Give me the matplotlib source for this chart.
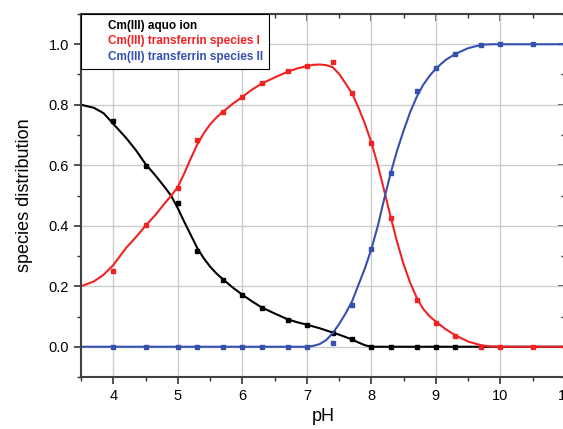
import matplotlib.pyplot as plt
from matplotlib.ticker import MultipleLocator

plt.rcParams['font.family'] = ['Liberation Sans', 'DejaVu Sans']

# measured points (squares)
ph_pts = [4.0, 4.5, 5.0, 5.3, 5.7, 6.0, 6.3, 6.7, 7.0, 7.4, 7.7, 8.0, 8.3, 8.7, 9.0, 9.3, 9.7, 10.0, 10.5, 11.0]
aquo_pts = [0.747, 0.599, 0.475, 0.316, 0.22, 0.172, 0.128, 0.089, 0.072, 0.047, 0.025, 0.0, 0.0, 0.0, 0.0, 0.0]
tf1_pts = [0.251, 0.403, 0.526, 0.683, 0.777, 0.827, 0.871, 0.91, 0.928, 0.94, 0.838, 0.675, 0.425, 0.155, 0.08, 0.034, 0.0, 0.0, 0.0, 0.0]
tf2_pts = [0.0, 0.0, 0.0, 0.0, 0.0, 0.0, 0.0, 0.0, 0.0, 0.014, 0.137, 0.323, 0.576, 0.844, 0.92, 0.968, 0.999, 1.0, 1.0, 1.0]

# fitted curves
ph_fit = [3.5, 3.7, 3.85, 4.0, 4.2, 4.35, 4.5, 4.65, 4.8, 4.9, 5.0, 5.1, 5.2, 5.3, 5.4, 5.5, 5.6, 5.7, 5.85,
          6.0, 6.15, 6.3, 6.5, 6.7, 6.85, 7.0, 7.1, 7.2, 7.3, 7.4, 7.5, 7.6, 7.7, 7.8, 7.9, 8.0, 8.1, 8.2,
          8.3, 8.4, 8.5, 8.6, 8.7, 8.8, 8.9, 9.0, 9.15, 9.3, 9.5, 9.7, 9.85, 10.0, 10.5, 11.0]
aquo_fit = [0.800, 0.790, 0.772, 0.737, 0.690, 0.650, 0.604, 0.567, 0.527, 0.498, 0.458, 0.413, 0.370, 0.327,
            0.293, 0.265, 0.242, 0.223, 0.196, 0.172, 0.150, 0.130, 0.110, 0.091, 0.081, 0.073, 0.067, 0.061,
            0.054, 0.047, 0.040, 0.032, 0.024, 0.014, 0.005, 0.0, 0.0, 0.0, 0.0, 0.0, 0.0, 0.0, 0.0, 0.0,
            0.0, 0.0, 0.0, 0.0, 0.0, 0.0, 0.0, 0.0, 0.0, 0.0]
tf1_fit = [0.200, 0.216, 0.238, 0.270, 0.327, 0.362, 0.400, 0.435, 0.475, 0.500, 0.528, 0.573, 0.622, 0.668,
           0.705, 0.735, 0.758, 0.777, 0.803, 0.826, 0.850, 0.870, 0.890, 0.909, 0.920, 0.928, 0.932, 0.933,
           0.931, 0.924, 0.902, 0.870, 0.838, 0.790, 0.737, 0.675, 0.600, 0.515, 0.428, 0.345, 0.272, 0.212,
           0.163, 0.126, 0.101, 0.083, 0.058, 0.038, 0.017, 0.005, 0.001, 0.0, 0.0, 0.0]
tf2_fit = [0.0, 0.0, 0.0, 0.0, 0.0, 0.0, 0.0, 0.0, 0.0, 0.0, 0.0, 0.0, 0.0, 0.0, 0.0, 0.0, 0.0, 0.0, 0.0,
           0.0, 0.0, 0.0, 0.0, 0.0, 0.0, 0.0, 0.003, 0.009, 0.022, 0.045, 0.075, 0.110, 0.150, 0.205, 0.260,
           0.323, 0.400, 0.490, 0.575, 0.650, 0.715, 0.775, 0.825, 0.865, 0.895, 0.920, 0.948, 0.968, 0.987,
           0.998, 1.0, 1.0, 1.0, 1.0]

labels = ["Cm(III) aquo ion", "Cm(III) transferrin species I", "Cm(III) transferrin species II"]
colors = ["black", "#f02222", "#3551b0"]

fig = plt.figure(figsize=(5.63, 4.29), dpi=100)
ax = fig.add_axes([81/563, 1 - 377/429, 484/563, (377 - 14)/429])

ax.grid(True, color="#cccccc", lw=1)
ax.set_axisbelow(True)

fits = [aquo_fit, tf1_fit, tf2_fit]
pts = [aquo_pts, tf1_pts, tf2_pts]
handles = []
for f, p, c, lab in zip(fits, pts, colors, labels):
    h, = ax.plot(ph_fit, f, color=c, lw=1.5, label=lab, clip_on=False)
    ax.plot(ph_pts[:len(p)], p, 's', color=c, ms=3.5, clip_on=False)
    handles.append(h)

ax.set_xlim(3.5, 11)
ax.set_ylim(-0.1, 1.1)
ax.set_xticks([4, 5, 6, 7, 8, 9, 10, 11])
ax.set_yticks([0.0, 0.2, 0.4, 0.6, 0.8, 1.0])
ax.xaxis.set_minor_locator(MultipleLocator(0.5))
ax.yaxis.set_minor_locator(MultipleLocator(0.1))
ax.yaxis.set_major_formatter(plt.FormatStrFormatter("%.1f"))
ax.tick_params(which="both", direction="out", color="#333333", labelsize=10.5)
ax.tick_params(which="major", length=5, width=1.2)
ax.tick_params(which="minor", length=3, width=1)

# top and right ticks point inward
top = ax.secondary_xaxis("top")
top.set_xticks([4, 5, 6, 7, 8, 9, 10, 11])
top.xaxis.set_minor_locator(MultipleLocator(0.5))
right = ax.secondary_yaxis("right")
right.set_yticks([0.0, 0.2, 0.4, 0.6, 0.8, 1.0])
right.yaxis.set_minor_locator(MultipleLocator(0.1))
for sec in (top, right):
    sec.tick_params(which="both", direction="in", color="#333333", labelleft=False,
                    labelright=False, labeltop=False, labelbottom=False)
    sec.tick_params(which="major", length=5, width=1.2)
    sec.tick_params(which="minor", length=3, width=1)
    for s in sec.spines.values():
        s.set_visible(False)

for s in ax.spines.values():
    s.set_color("#404040")
    s.set_linewidth(1.5)

ax.set_xlabel("pH", fontsize=13, labelpad=4)
ax.set_ylabel("species distribution", fontsize=13, labelpad=11)

leg = ax.legend(handles=handles, loc="upper left", borderaxespad=0, fancybox=False,
                edgecolor="black", framealpha=1, labelcolor="linecolor", handlelength=1.5,
                handletextpad=0.3, labelspacing=0.3, borderpad=0.5,
                prop={"weight": "bold", "size": 8.5})
leg.get_frame().set_linewidth(0.8)
for h in leg.legend_handles:
    h.set_visible(False)

fig.savefig("out.png", dpi=100)
